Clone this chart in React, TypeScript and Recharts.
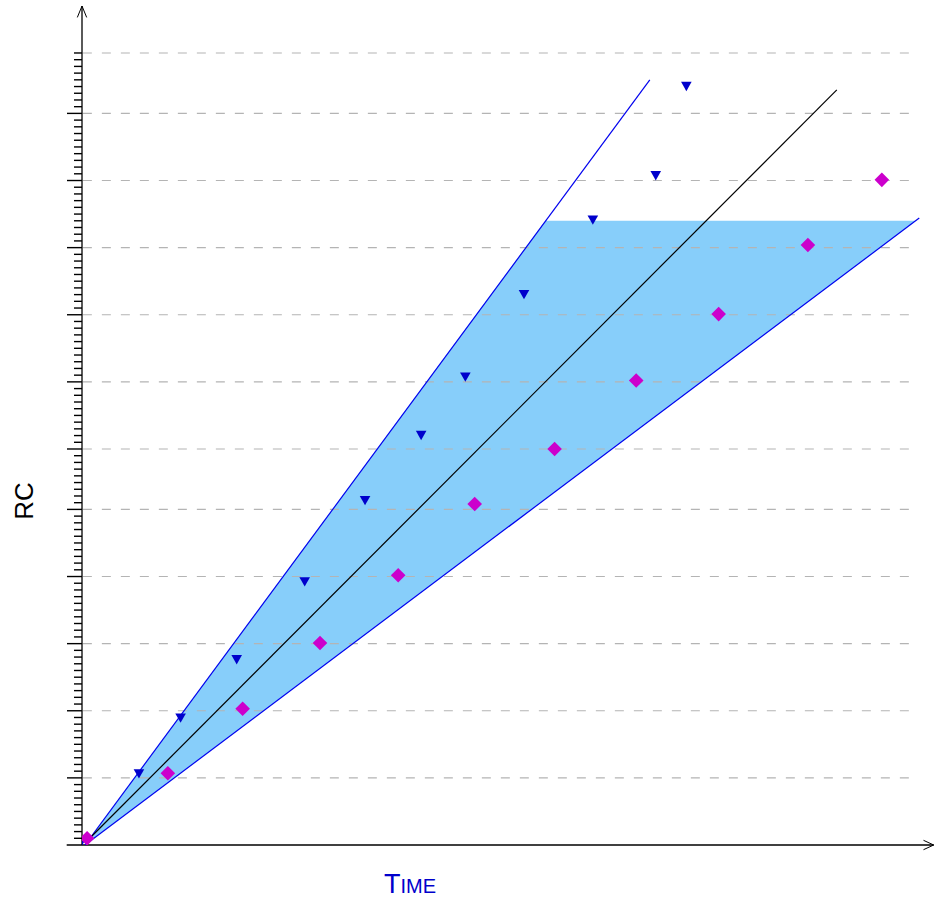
import React from 'react';
import { ComposedChart, XAxis, YAxis, Line, Area, Scatter, ReferenceLine } from 'recharts';

// Magenta diamond series (time, RC)
const diamondX = [0.6, 10.1, 18.9, 28.0, 37.2, 46.2, 55.6, 65.2, 74.9, 85.4, 94.1];
const diamondY = [1.0, 10.7, 20.3, 30.1, 40.2, 50.8, 59.0, 69.2, 79.1, 89.4, 99.1];
// Blue triangle series
const triX = [0, 6.7, 11.6, 18.2, 26.2, 33.3, 39.9, 45.1, 52.0, 60.1, 67.5, 71.1];
const triY = [0.6, 10.6, 18.9, 27.6, 39.2, 51.3, 61.0, 69.7, 82.0, 93.1, 99.7, 113.0];
// Reference lines (start/end)
const blackLineX = [0.35, 88.8];
const blackLineY = [0.3, 112.5];
const upperLineX = [0.35, 66.8];
const upperLineY = [0, 114.0];
const lowerLineX = [0.35, 98.5];
const lowerLineY = [0, 93.4];
// Shaded band
const bandX = [0.35, 54.5, 98.1];
const bandLow = [0, 51.5, 93.0];
const bandHigh = [0, 93.0, 93.0];
// Axis ticks
const minorTicks = Array.from({ length: 119 }, (_, i) => i);
const majorTicks = [10, 20, 30, 40, 50, 59, 69, 79, 89, 99, 109];
const gridValues = [10, 20, 30, 40, 50, 59, 69, 79, 89, 99, 109, 118];

const diamonds = diamondX.map((x, i) => ({ x, y: diamondY[i] }));
const triangles = triX.map((x, i) => ({ x, y: triY[i] }));
const blackLine = blackLineX.map((x, i) => ({ x, y: blackLineY[i] }));
const upperLine = upperLineX.map((x, i) => ({ x, y: upperLineY[i] }));
const lowerLine = lowerLineX.map((x, i) => ({ x, y: lowerLineY[i] }));
const band = bandX.map((x, i) => ({ x, range: [bandLow[i], bandHigh[i]] }));

const YTick = (props: any) => {
  const { x, y, payload } = props;
  const v = payload.value;
  if (v === 0) return <g />;
  const len = majorTicks.includes(v) ? 15 : 8;
  return <line x1={x - len} x2={x} y1={y} y2={y} stroke="#000" strokeWidth={1.4} />;
};

const Diamond = (props: any) => {
  const { cx, cy } = props;
  if (cx == null || cy == null) return null;
  const r = 7.3;
  return <path d={`M${cx},${cy - r}L${cx + r},${cy}L${cx},${cy + r}L${cx - r},${cy}Z`} fill="#CC00CC" />;
};

const Tri = (props: any) => {
  const { cx, cy } = props;
  if (cx == null || cy == null) return null;
  return <path d={`M${cx - 5.3},${cy - 4.7}L${cx + 5.3},${cy - 4.7}L${cx},${cy + 4.7}Z`} fill="#0000CC" />;
};

export default function App() {
  return (
    <div style={{ position: 'absolute', left: 0, top: 0, width: 936, height: 900, fontFamily: '"Liberation Sans", Arial, sans-serif' }}>
      <ComposedChart width={936} height={900} margin={{ top: 6, right: 4, bottom: 55, left: 62 }}>
        <XAxis type="number" dataKey="x" domain={[0, 100]} hide allowDataOverflow />
        <YAxis
          type="number"
          domain={[0, 125]}
          width={20}
          ticks={minorTicks}
          interval={0}
          tickSize={0}
          tickMargin={0}
          tickLine={false}
          axisLine={{ stroke: '#000', strokeWidth: 1.3 }}
          tick={<YTick />}
          allowDataOverflow
        />
        <Area data={band} dataKey="range" type="linear" fill="#87CEFA" fillOpacity={1} stroke="none" isAnimationActive={false} />
        {gridValues.map((g) => (
          <ReferenceLine
            key={g}
            segment={[{ x: 0.1, y: g }, { x: 98.4, y: g }]}
            stroke="#B4B4B4"
            strokeWidth={1.1}
            strokeDasharray="9 10"
            ifOverflow="visible"
          />
        ))}
        <ReferenceLine segment={[{ x: -1.8, y: 0 }, { x: 100.2, y: 0 }]} stroke="#000" strokeWidth={1.3} ifOverflow="visible" />
        <ReferenceLine segment={[{ x: 99.0, y: 0.7 }, { x: 100.2, y: 0 }]} stroke="#000" strokeWidth={1} ifOverflow="visible" />
        <ReferenceLine segment={[{ x: 99.0, y: -0.7 }, { x: 100.2, y: 0 }]} stroke="#000" strokeWidth={1} ifOverflow="visible" />
        <ReferenceLine segment={[{ x: -0.55, y: 123.3 }, { x: 0, y: 125 }]} stroke="#000" strokeWidth={1} ifOverflow="visible" />
        <ReferenceLine segment={[{ x: 0.55, y: 123.3 }, { x: 0, y: 125 }]} stroke="#000" strokeWidth={1} ifOverflow="visible" />
        <Line data={upperLine} dataKey="y" type="linear" stroke="#0000EE" strokeWidth={1.2} dot={false} isAnimationActive={false} />
        <Line data={lowerLine} dataKey="y" type="linear" stroke="#0000EE" strokeWidth={1.2} dot={false} isAnimationActive={false} />
        <Line data={blackLine} dataKey="y" type="linear" stroke="#000" strokeWidth={1.2} dot={false} isAnimationActive={false} />
        <Scatter data={triangles} dataKey="y" shape={<Tri />} isAnimationActive={false} />
        <Scatter data={diamonds} dataKey="y" shape={<Diamond />} isAnimationActive={false} />
      </ComposedChart>
      <svg width={936} height={900} style={{ position: 'absolute', left: 0, top: 0, pointerEvents: 'none' }}>
        <text transform="translate(33,501) rotate(-90)" textAnchor="middle" fontSize={26} fill="#000" fontFamily='"Liberation Sans", Arial, sans-serif'>RC</text>
        <text x={410} y={893} textAnchor="middle" fill="#0000CC" fontFamily='"Liberation Sans", Arial, sans-serif'>
          <tspan fontSize={27}>T</tspan>
          <tspan fontSize={20}>IME</tspan>
        </text>
      </svg>
    </div>
  );
}
